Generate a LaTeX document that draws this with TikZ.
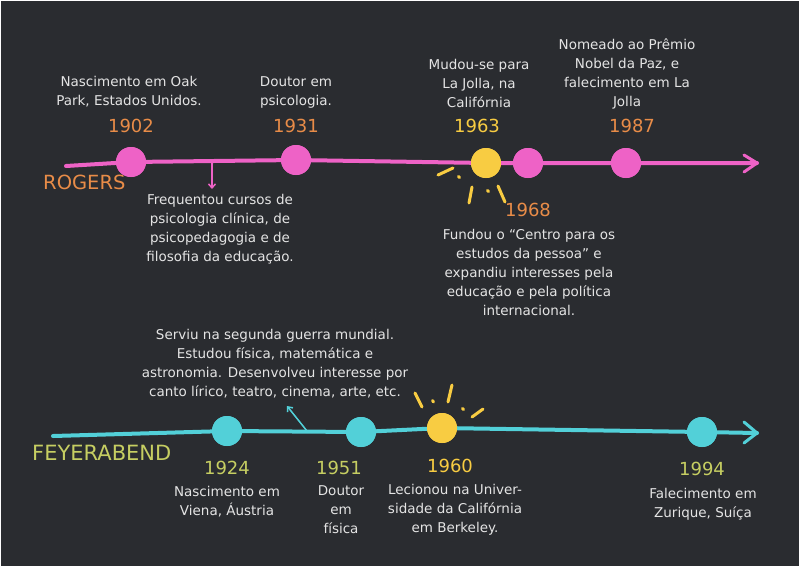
\documentclass[tikz,border=0pt]{standalone}
\usepackage{fontspec}
\setmainfont{DejaVu Sans}
\usetikzlibrary{arrows.meta}
\definecolor{bgc}{RGB}{42,44,48}
\definecolor{txtc}{RGB}{228,228,228}
\definecolor{pinkc}{RGB}{238,98,198}
\definecolor{orangec}{RGB}{232,140,72}
\definecolor{yellowc}{RGB}{248,204,66}
\definecolor{cyanc}{RGB}{82,208,216}
\definecolor{limec}{RGB}{198,206,98}
\begin{document}
\begin{tikzpicture}[x=1pt,y=-1pt,
  txt/.style={text=txtc, font=\fontsize{13.5}{19}\selectfont, align=center, inner sep=0pt},
  yr/.style={font=\fontsize{18}{18}\selectfont, inner sep=0pt},
  title/.style={font=\fontsize{19.5}{19.5}\selectfont, inner sep=0pt, anchor=west},
  dotnode/.style={circle, minimum size=30pt, inner sep=0pt},
  rline/.style={draw=pinkc, line width=4pt, line cap=round, line join=round},
  fline/.style={draw=cyanc, line width=4pt, line cap=round, line join=round},
  ray/.style={draw=yellowc, line width=3pt, line cap=round}]
\fill[bgc] (0,0) rectangle (799,566);
\useasboundingbox (0,0) rectangle (799,566);
\draw[white, line width=2pt] (0,566) -- (0,0) -- (799,0);

% ---------------- ROGERS ----------------
\coordinate (rstart) at (66,166);
\coordinate (rtip) at (757,163);
\node[dotnode, fill=pinkc] (r1902) at (131,162) {};
\node[dotnode, fill=pinkc] (r1931) at (296,160) {};
\node[dotnode, fill=yellowc] (r1963) at (486,163) {};
\node[dotnode, fill=pinkc] (r1968) at (528,163) {};
\node[dotnode, fill=pinkc] (r1987) at (626,163) {};
\draw[rline] (rstart) -- (r1902.center) -- (r1931.center) -- (r1963.center) -- (r1968.center) -- (r1987.center) -- (rtip);
\draw[rline, line width=3pt] (rtip) -- ++(-13,-8);
\draw[rline, line width=3pt] (rtip) -- ++(-13,9);
\node[dotnode, fill=pinkc] at (r1902) {};
\node[dotnode, fill=pinkc] at (r1931) {};
\node[dotnode, fill=yellowc] at (r1963) {};
\node[dotnode, fill=pinkc] at (r1968) {};
\node[dotnode, fill=pinkc] at (r1987) {};

\coordinate (rdownA) at (212,163);
\coordinate (rdownB) at (212,189);
\draw[draw=pinkc, line width=1.5pt, -{Straight Barb[length=4pt,width=7pt]}] (rdownA) -- (rdownB);

\node[title, text=orangec] (rogers) at (43,182) {ROGERS};

\node[txt] (t1902) at (129,92) {Nascimento em Oak\\Park, Estados Unidos.};
\node[yr, text=orangec] (y1902) at (131,126) {1902};
\node[txt] (t1931) at (296,92) {Doutor em\\psicologia.};
\node[yr, text=orangec] (y1931) at (296,126) {1931};
\node[txt] (t1963) at (479,83) {Mudou-se para\\La Jolla, na\\Califórnia};
\node[yr, text=yellowc] (y1963) at (477,126) {1963};
\node[txt] (t1987) at (627,74) {Nomeado ao Prêmio\\Nobel da Paz, e\\falecimento em La\\Jolla};
\node[yr, text=orangec] (y1987) at (632,126) {1987};
\node[txt] (tfreq) at (220,229) {Frequentou cursos de\\psicologia clínica, de\\psicopedagogia e de\\filosofia da educação.};
\node[yr, text=orangec] (y1968) at (528,210) {1968};
\node[txt] (t1968) at (529,272) {Fundou o “Centro para os\\estudos da pessoa” e\\expandiu interesses pela\\educação e pela política\\internacional.};

% sun rays 1963
\draw[ray] (438,175) -- (453,168);
\draw[ray] (458.5,176.5) -- (459.5,177.5);
\draw[ray] (472,187) -- (469,203);
\draw[ray] (487.5,190.5) -- (488.5,191.5);
\draw[ray] (498,186) -- (505,202);

% ---------------- FEYERABEND ----------------
\coordinate (fstart) at (53,436);
\coordinate (ftip) at (757,433);
\node[dotnode, fill=cyanc] (f1924) at (227,431) {};
\node[dotnode, fill=cyanc] (f1951) at (361,432) {};
\node[dotnode, fill=yellowc] (f1960) at (442,428) {};
\node[dotnode, fill=cyanc] (f1994) at (702,432) {};
\draw[fline] (fstart) -- (f1924.center) -- (f1951.center) -- (f1960.center) -- (f1994.center) -- (ftip);
\draw[fline, line width=3pt] (ftip) -- ++(-13,-11);
\draw[fline, line width=3pt] (ftip) -- ++(-13,10);
\node[dotnode, fill=cyanc] at (f1924) {};
\node[dotnode, fill=cyanc] at (f1951) {};
\node[dotnode, fill=yellowc] at (f1960) {};
\node[dotnode, fill=cyanc] at (f1994) {};

\coordinate (fupA) at (307,431);
\coordinate (fupB) at (287,406);
\draw[draw=cyanc, line width=1.5pt, -{Straight Barb[length=4pt,width=7pt]}] (fupA) -- (fupB);

\node[title, text=limec, font=\fontsize{21}{21}\selectfont] (feyer) at (32,453) {FEYERABEND};

\node[txt] (tserv) at (275,364) {Serviu na segunda guerra mundial.\\Estudou física, matemática e\\astronomia. Desenvolveu interesse por\\canto lírico, teatro, cinema, arte, etc.};
\node[yr, text=limec] (y1924) at (227,468) {1924};
\node[txt] (t1924) at (227,502) {Nascimento em\\Viena, Áustria};
\node[yr, text=limec] (y1951) at (339,468) {1951};
\node[txt] (t1951) at (341,510) {Doutor\\em\\física};
\node[yr, text=yellowc] (y1960) at (450,466) {1960};
\node[txt] (t1960) at (455,510) {Lecionou na Univer-\\sidade da Califórnia\\em Berkeley.};
\node[yr, text=limec] (y1994) at (702,469) {1994};
\node[txt] (t1994) at (703,504) {Falecimento em\\Zurique, Suíça};

% sun rays 1960
\draw[ray] (415,393) -- (422,407);
\draw[ray] (432.5,400.5) -- (433.5,402);
\draw[ray] (452,385) -- (448,402);
\draw[ray] (462.5,408.5) -- (463.5,409.5);
\draw[ray] (483,409) -- (472,417);
\end{tikzpicture}
\end{document}
